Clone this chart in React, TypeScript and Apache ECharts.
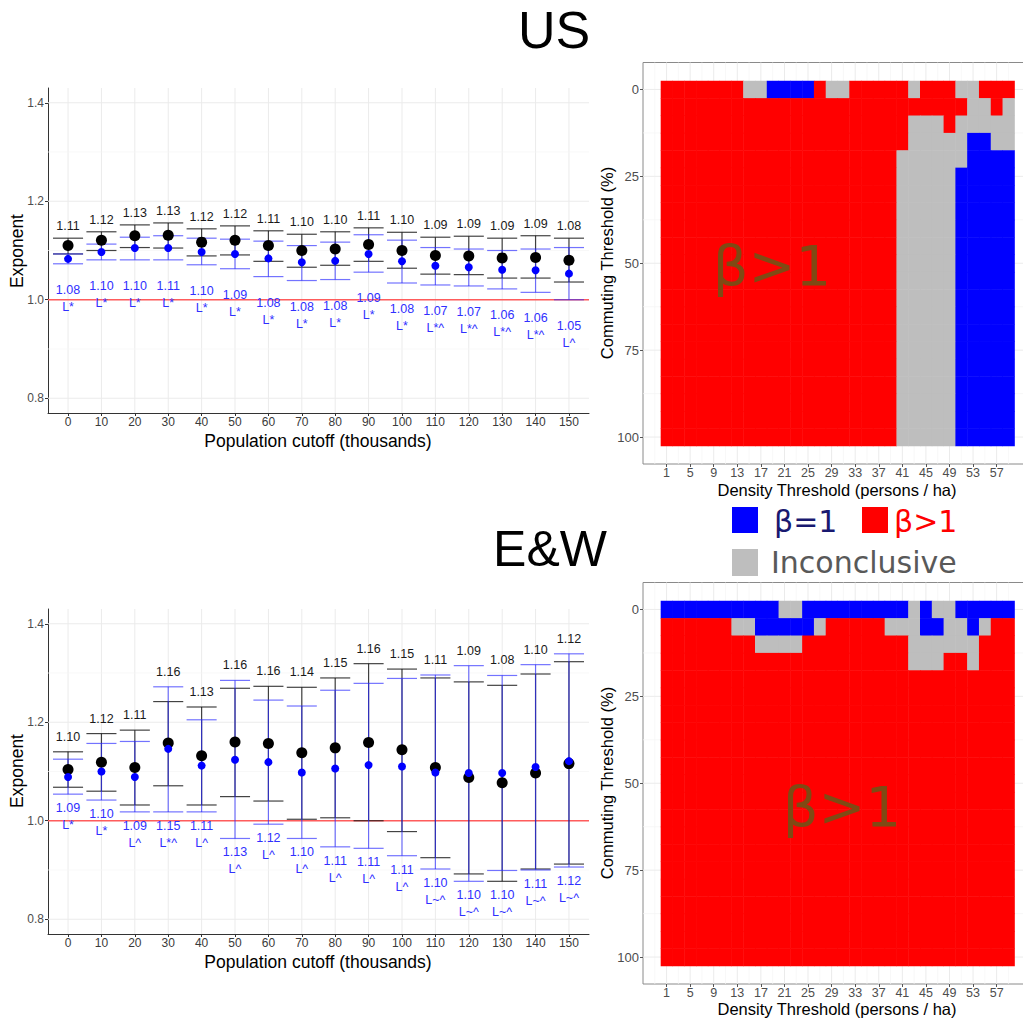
import React, { useEffect, useRef } from "react";
import * as echarts from "echarts";

// ---------- Scatter panels (population cutoff) ----------
const cutoffs = [0, 10, 20, 30, 40, 50, 60, 70, 80, 90, 100, 110, 120, 130, 140, 150];
const cutoffIdx = [0, 1, 2, 3, 4, 5, 6, 7, 8, 9, 10, 11, 12, 13, 14, 15];
const exponentTicks = [0.8, 1.0, 1.2, 1.4];
const exponentMinor = [0.9, 1.1, 1.3];

// US
const usBlackEst = [1.110, 1.121, 1.130, 1.131, 1.117, 1.121, 1.110, 1.100, 1.103, 1.112, 1.100, 1.090, 1.089, 1.085, 1.086, 1.080];
const usBlackLo = [1.093, 1.100, 1.106, 1.105, 1.089, 1.091, 1.078, 1.066, 1.070, 1.078, 1.064, 1.052, 1.051, 1.044, 1.044, 1.036];
const usBlackHi = [1.125, 1.138, 1.152, 1.156, 1.144, 1.150, 1.140, 1.133, 1.138, 1.146, 1.137, 1.127, 1.129, 1.125, 1.130, 1.125];
const usBlueEst = [1.083, 1.097, 1.105, 1.105, 1.097, 1.093, 1.084, 1.076, 1.079, 1.093, 1.078, 1.069, 1.066, 1.061, 1.060, 1.053];
const usBlueLo = [1.073, 1.081, 1.081, 1.081, 1.071, 1.063, 1.047, 1.039, 1.041, 1.056, 1.034, 1.030, 1.028, 1.022, 1.015, 1.000];
const usBlueHi = [1.093, 1.113, 1.127, 1.130, 1.125, 1.123, 1.119, 1.110, 1.117, 1.132, 1.121, 1.106, 1.103, 1.100, 1.103, 1.106];
const usBlackLabel = ["1.11", "1.12", "1.13", "1.13", "1.12", "1.12", "1.11", "1.10", "1.10", "1.11", "1.10", "1.09", "1.09", "1.09", "1.09", "1.08"];
const usBlueLabel = ["1.08", "1.10", "1.10", "1.11", "1.10", "1.09", "1.08", "1.08", "1.08", "1.09", "1.08", "1.07", "1.07", "1.06", "1.06", "1.05"];
const usTag = ["L*", "L*", "L*", "L*", "L*", "L*", "L*", "L*", "L*", "L*", "L*", "L*^", "L*^", "L*^", "L*^", "L^"];

// E&W
const ewBlackEst = [1.104, 1.119, 1.108, 1.158, 1.132, 1.160, 1.157, 1.138, 1.148, 1.159, 1.144, 1.108, 1.088, 1.077, 1.097, 1.116];
const ewBlackLo = [1.068, 1.060, 1.032, 1.071, 1.032, 1.049, 1.040, 1.003, 1.006, 1.000, 0.978, 0.925, 0.892, 0.877, 0.902, 0.912];
const ewBlackHi = [1.140, 1.177, 1.184, 1.242, 1.231, 1.269, 1.273, 1.271, 1.290, 1.319, 1.308, 1.290, 1.282, 1.275, 1.298, 1.323];
const ewBlueEst = [1.089, 1.100, 1.089, 1.146, 1.112, 1.124, 1.119, 1.098, 1.106, 1.113, 1.110, 1.098, 1.097, 1.097, 1.109, 1.121];
const ewBlueLo = [1.054, 1.042, 1.018, 1.018, 1.018, 0.964, 0.993, 0.964, 0.947, 0.944, 0.929, 0.902, 0.877, 0.899, 0.900, 0.906];
const ewBlueHi = [1.125, 1.157, 1.161, 1.272, 1.205, 1.285, 1.245, 1.233, 1.265, 1.279, 1.289, 1.296, 1.315, 1.295, 1.317, 1.339];
const ewBlackLabel = ["1.10", "1.12", "1.11", "1.16", "1.13", "1.16", "1.16", "1.14", "1.15", "1.16", "1.15", "1.11", "1.09", "1.08", "1.10", "1.12"];
const ewBlueLabel = ["1.09", "1.10", "1.09", "1.15", "1.11", "1.13", "1.12", "1.10", "1.11", "1.11", "1.11", "1.10", "1.10", "1.10", "1.11", "1.12"];
const ewTag = ["L*", "L*", "L^", "L*^", "L^", "L^", "L^", "L^", "L^", "L^", "L^", "L~^", "L~^", "L~^", "L~^", "L~^"];

// ---------- Heatmap panels ----------
const densityCols = [1, 3, 5, 7, 9, 11, 13, 15, 17, 19, 21, 23, 25, 27, 29, 31, 33, 35, 37, 39, 41, 43, 45, 47, 49, 51, 53, 55, 57, 59];
const commutingRows = [0, 5, 10, 15, 20, 25, 30, 35, 40, 45, 50, 55, 60, 65, 70, 75, 80, 85, 90, 95, 100];
const densityTicks = [1, 5, 9, 13, 17, 21, 25, 29, 33, 37, 41, 45, 49, 53, 57];
const densityMinor = [-1, 3, 7, 11, 15, 19, 23, 27, 31, 35, 39, 43, 47, 51, 55, 59];
const commutingTicks = [0, 25, 50, 75, 100];
const commutingMinor = [12.5, 37.5, 62.5, 87.5];

type Run = [string, number];
// R = beta>1, B = beta=1, G = inconclusive ; runs along density columns, one row per commuting threshold
const usRuns: Run[][] = [
  [["R", 7], ["G", 2], ["B", 4], ["R", 1], ["G", 2], ["R", 5], ["G", 1], ["R", 3], ["G", 2], ["R", 3]],
  [["R", 26], ["G", 2], ["R", 1], ["G", 1]],
  [["R", 21], ["G", 3], ["R", 1], ["G", 5]],
  [["R", 21], ["G", 5], ["B", 2], ["G", 2]],
  [["R", 20], ["G", 6], ["B", 4]],
  [["R", 20], ["G", 5], ["B", 5]],
  [["R", 20], ["G", 5], ["B", 5]],
  [["R", 20], ["G", 5], ["B", 5]],
  [["R", 20], ["G", 5], ["B", 5]],
  [["R", 20], ["G", 5], ["B", 5]],
  [["R", 20], ["G", 5], ["B", 5]],
  [["R", 20], ["G", 5], ["B", 5]],
  [["R", 20], ["G", 5], ["B", 5]],
  [["R", 20], ["G", 5], ["B", 5]],
  [["R", 20], ["G", 5], ["B", 5]],
  [["R", 20], ["G", 5], ["B", 5]],
  [["R", 20], ["G", 5], ["B", 5]],
  [["R", 20], ["G", 5], ["B", 5]],
  [["R", 20], ["G", 5], ["B", 5]],
  [["R", 20], ["G", 5], ["B", 5]],
  [["R", 20], ["G", 5], ["B", 5]],
];
const ewRuns: Run[][] = [
  [["B", 10], ["G", 2], ["B", 9], ["G", 1], ["B", 1], ["G", 2], ["B", 5]],
  [["R", 6], ["G", 2], ["B", 5], ["G", 1], ["R", 5], ["G", 3], ["B", 2], ["G", 2], ["B", 1], ["G", 1], ["R", 2]],
  [["R", 8], ["G", 4], ["R", 9], ["G", 6], ["R", 3]],
  [["R", 21], ["G", 3], ["R", 2], ["G", 1], ["R", 3]],
  [["R", 30]],
  [["R", 30]],
  [["R", 30]],
  [["R", 30]],
  [["R", 30]],
  [["R", 30]],
  [["R", 30]],
  [["R", 30]],
  [["R", 30]],
  [["R", 30]],
  [["R", 30]],
  [["R", 30]],
  [["R", 30]],
  [["R", 30]],
  [["R", 30]],
  [["R", 30]],
  [["R", 30]],
];

const statusCodes = ["B", "R", "G"];
const statusColors = ["#0000ff", "#ff0000", "#bebebe"];

const FONT = '"Liberation Sans", Arial, sans-serif';
const FONT_D = '"DejaVu Sans", Verdana, sans-serif';

function expandRuns(runs: Run[][]) {
  const cells: number[][] = [];
  runs.forEach((row, r) => {
    let c = 0;
    row.forEach(([code, n]) => {
      for (let k = 0; k < n; k++) {
        cells.push([densityCols[c], commutingRows[r], statusCodes.indexOf(code)]);
        c++;
      }
    });
  });
  return cells;
}

type GLine = { dir: "v" | "h"; v: number; kind: "major" | "minor" | "ref" };

function gridLineSeries(gi: number, lines: GLine[]) {
  return {
    type: "custom",
    xAxisIndex: gi,
    yAxisIndex: gi,
    z: 1,
    silent: true,
    data: lines.map((_, i) => [i]),
    renderItem: (params: any, api: any) => {
      const g = lines[params.dataIndex];
      const cs = params.coordSys;
      const stroke = g.kind === "major" ? "#ebebeb" : g.kind === "minor" ? "#f5f5f5" : "#ff5c5c";
      const lw = g.kind === "minor" ? 0.7 : g.kind === "ref" ? 1.3 : 1;
      if (g.dir === "v") {
        const p = api.coord([g.v, 0]);
        return { type: "line", shape: { x1: p[0], y1: cs.y, x2: p[0], y2: cs.y + cs.height }, style: { stroke, lineWidth: lw } };
      }
      const p = api.coord([0, g.v]);
      return { type: "line", shape: { x1: cs.x, y1: p[1], x2: cs.x + cs.width, y2: p[1] }, style: { stroke, lineWidth: lw } };
    },
  };
}

function errorBarSeries(gi: number, lo: number[], hi: number[], color: string, z: number) {
  return {
    type: "custom",
    xAxisIndex: gi,
    yAxisIndex: gi,
    z,
    silent: true,
    encode: { x: 0, y: [1, 2] },
    data: cutoffIdx.map((i) => [i, lo[i], hi[i]]),
    renderItem: (params: any, api: any) => {
      const x = api.value(0);
      const pLo = api.coord([x, api.value(1)]);
      const pHi = api.coord([x, api.value(2)]);
      const half = api.size([0.9, 0])[0] / 2;
      const style = { stroke: color, lineWidth: 1.2 };
      return {
        type: "group",
        children: [
          { type: "line", shape: { x1: pLo[0], y1: pLo[1], x2: pHi[0], y2: pHi[1] }, style },
          { type: "line", shape: { x1: pHi[0] - half, y1: pHi[1], x2: pHi[0] + half, y2: pHi[1] }, style },
          { type: "line", shape: { x1: pLo[0] - half, y1: pLo[1], x2: pLo[0] + half, y2: pLo[1] }, style },
        ],
      };
    },
  };
}

function textEl(x: number, y: number, text: string, fill: string, size: number, family = FONT, align = "center") {
  return {
    type: "text",
    x,
    y,
    style: { text, fill, fontSize: size, fontFamily: family, align, textAlign: align, verticalAlign: "middle", textVerticalAlign: "middle" },
  };
}

function labelSeries(
  gi: number,
  d: { bHi: number[]; uHi: number[]; bLo: number[]; uLo: number[]; bLab: string[]; uLab: string[]; tag: string[] },
  topOff: number,
  botOff: number
) {
  return {
    type: "custom",
    xAxisIndex: gi,
    yAxisIndex: gi,
    z: 8,
    silent: true,
    encode: { x: 0, y: [1, 2] },
    data: cutoffIdx.map((i) => [i, Math.max(d.bHi[i], d.uHi[i]), Math.min(d.bLo[i], d.uLo[i])]),
    renderItem: (params: any, api: any) => {
      const i = params.dataIndex;
      const top = api.coord([api.value(0), api.value(1)]);
      const bot = api.coord([api.value(0), api.value(2)]);
      return {
        type: "group",
        children: [
          textEl(top[0], top[1] - topOff, d.bLab[i], "#1a1a1a", 12.5),
          textEl(bot[0], bot[1] + botOff, d.uLab[i], "#3030ff", 12.5),
          textEl(bot[0], bot[1] + botOff + 17, d.tag[i], "#3030ff", 12.5),
        ],
      };
    },
  };
}

function pointSeries(gi: number, est: number[], color: string, size: number, z: number) {
  return {
    type: "scatter",
    xAxisIndex: gi,
    yAxisIndex: gi,
    z,
    silent: true,
    symbol: "circle",
    symbolSize: size,
    itemStyle: { color, opacity: 1 },
    data: cutoffIdx.map((i) => [i, est[i]]),
  };
}

function heatSeries(gi: number, runs: Run[][]) {
  return {
    type: "custom",
    xAxisIndex: gi,
    yAxisIndex: gi,
    z: 3,
    silent: true,
    data: expandRuns(runs),
    renderItem: (params: any, api: any) => {
      const x = api.value(0);
      const y = api.value(1);
      const s = api.value(2);
      const p1 = api.coord([x - 1, y - 2.5]);
      const p2 = api.coord([x + 1, y + 2.5]);
      return {
        type: "rect",
        shape: {
          x: Math.min(p1[0], p2[0]),
          y: Math.min(p1[1], p2[1]),
          width: Math.abs(p2[0] - p1[0]) + 0.5,
          height: Math.abs(p2[1] - p1[1]) + 0.5,
        },
        style: { fill: statusColors[s] },
      };
    },
  };
}

const scatterLines: GLine[] = [
  ...cutoffIdx.map((v) => ({ dir: "v" as const, v, kind: "major" as const })),
  ...exponentMinor.map((v) => ({ dir: "h" as const, v, kind: "minor" as const })),
  ...exponentTicks.map((v) => ({ dir: "h" as const, v, kind: "major" as const })),
  { dir: "h", v: 1.0, kind: "ref" },
];
const heatLines: GLine[] = [
  ...densityMinor.map((v) => ({ dir: "v" as const, v, kind: "minor" as const })),
  ...commutingMinor.map((v) => ({ dir: "h" as const, v, kind: "minor" as const })),
  ...densityTicks.map((v) => ({ dir: "v" as const, v, kind: "major" as const })),
  ...commutingTicks.map((v) => ({ dir: "h" as const, v, kind: "major" as const })),
];

function scatterXAxis(gi: number) {
  return {
    type: "value",
    gridIndex: gi,
    min: -0.6,
    max: 15.6,
    axisLine: { show: true, onZero: false, lineStyle: { color: "#333", width: 1 } },
    axisTick: { show: true, customValues: cutoffIdx, length: 3, lineStyle: { color: "#333" } },
    axisLabel: {
      show: true,
      customValues: cutoffIdx,
      formatter: (v: number) => String(cutoffs[Math.round(v)]),
      fontSize: 12,
      color: "#3a3a3a",
      fontFamily: FONT,
      margin: 3,
    },
    splitLine: { show: false },
  };
}
function scatterYAxis(gi: number) {
  return {
    type: "value",
    gridIndex: gi,
    min: 0.77,
    max: 1.43,
    axisLine: { show: true, onZero: false, lineStyle: { color: "#333", width: 1 } },
    axisTick: { show: true, customValues: exponentTicks, length: 3, lineStyle: { color: "#333" } },
    axisLabel: {
      show: true,
      customValues: exponentTicks,
      formatter: (v: number) => v.toFixed(1),
      fontSize: 12,
      color: "#4d4d4d",
      fontFamily: FONT,
      margin: 4,
    },
    splitLine: { show: false },
  };
}
function heatXAxis(gi: number) {
  return {
    type: "value",
    gridIndex: gi,
    min: -3,
    max: 63,
    axisLine: { show: false, onZero: false },
    axisTick: { show: true, customValues: densityTicks, length: 3, lineStyle: { color: "#555" } },
    axisLabel: { show: true, customValues: densityTicks, fontSize: 12.5, color: "#4d4d4d", fontFamily: FONT, margin: 2 },
    splitLine: { show: false },
  };
}
function heatYAxis(gi: number) {
  return {
    type: "value",
    gridIndex: gi,
    inverse: true,
    min: -7.75,
    max: 107.75,
    axisLine: { show: false, onZero: false },
    axisTick: { show: true, customValues: commutingTicks, length: 3, lineStyle: { color: "#555" } },
    axisLabel: { show: true, customValues: commutingTicks, fontSize: 13, color: "#4d4d4d", fontFamily: FONT, margin: 4 },
    splitLine: { show: false },
  };
}

function rotatedText(x: number, y: number, text: string, size: number) {
  return {
    type: "text",
    x,
    y,
    rotation: Math.PI / 2,
    z: 100,
    style: { text, fill: "#000", fontSize: size, fontFamily: FONT, align: "center", textAlign: "center", verticalAlign: "middle", textVerticalAlign: "middle" },
  };
}
function gText(x: number, y: number, text: string, fill: string, size: number, family: string, align = "center") {
  return {
    type: "text",
    x,
    y,
    z: 100,
    style: { text, fill, fontSize: size, fontFamily: family, align, textAlign: align, verticalAlign: "middle", textVerticalAlign: "middle" },
  };
}
function gRect(x: number, y: number, w: number, h: number, fill: string) {
  return { type: "rect", z: 100, shape: { x, y, width: w, height: h }, style: { fill } };
}

export default function App() {
  const ref = useRef<HTMLDivElement>(null);
  useEffect(() => {
    if (!ref.current) return;
    const chart = echarts.init(ref.current, null, { renderer: "svg" });
    const usD = { bHi: usBlackHi, uHi: usBlueHi, bLo: usBlackLo, uLo: usBlueLo, bLab: usBlackLabel, uLab: usBlueLabel, tag: usTag };
    const ewD = { bHi: ewBlackHi, uHi: ewBlueHi, bLo: ewBlackLo, uLo: ewBlueLo, bLab: ewBlackLabel, uLab: ewBlueLabel, tag: ewTag };
    const option: any = {
      animation: false,
      backgroundColor: "#ffffff",
      grid: [
        { left: 48, top: 88, width: 541, height: 325, outerBoundsMode: "none" },
        { left: 48, top: 609, width: 541, height: 325, outerBoundsMode: "none" },
        { left: 643, top: 62.5, width: 389, height: 401.5, show: true, borderColor: "#8a8a8a", borderWidth: 1, backgroundColor: "transparent", outerBoundsMode: "none" },
        { left: 643, top: 582.5, width: 389, height: 401.5, show: true, borderColor: "#8a8a8a", borderWidth: 1, backgroundColor: "transparent", outerBoundsMode: "none" },
      ],
      xAxis: [scatterXAxis(0), scatterXAxis(1), heatXAxis(2), heatXAxis(3)],
      yAxis: [scatterYAxis(0), scatterYAxis(1), heatYAxis(2), heatYAxis(3)],
      series: [
        gridLineSeries(0, scatterLines),
        errorBarSeries(0, usBlackLo, usBlackHi, "rgba(20,20,20,0.8)", 3),
        errorBarSeries(0, usBlueLo, usBlueHi, "rgba(40,40,255,0.65)", 4),
        pointSeries(0, usBlackEst, "#000000", 11, 5),
        pointSeries(0, usBlueEst, "#0000ff", 8, 6),
        labelSeries(0, usD, 12, 26),
        gridLineSeries(1, scatterLines),
        errorBarSeries(1, ewBlackLo, ewBlackHi, "rgba(20,20,20,0.8)", 3),
        errorBarSeries(1, ewBlueLo, ewBlueHi, "rgba(40,40,255,0.65)", 4),
        pointSeries(1, ewBlackEst, "#000000", 11, 5),
        pointSeries(1, ewBlueEst, "#0000ff", 8, 6),
        labelSeries(1, ewD, 15, 14),
        gridLineSeries(2, heatLines),
        heatSeries(2, usRuns),
        gridLineSeries(3, heatLines),
        heatSeries(3, ewRuns),
      ],
      graphic: {
        elements: [
          gText(554, 30, "US", "#000", 52, FONT),
          gText(550, 549, "E&W", "#000", 50, FONT),
          rotatedText(17, 251, "Exponent", 17.5),
          rotatedText(17, 771, "Exponent", 17.5),
          gText(318, 441, "Population cutoff (thousands)", "#000", 17.5, FONT),
          gText(318, 962, "Population cutoff (thousands)", "#000", 17.5, FONT),
          rotatedText(607, 263, "Commuting Threshold (%)", 16.5),
          rotatedText(607, 783, "Commuting Threshold (%)", 16.5),
          gText(837, 490, "Density Threshold (persons / ha)", "#000", 16.5, FONT),
          gText(837, 1009, "Density Threshold (persons / ha)", "#000", 16.5, FONT),
          gText(772, 265, "β>1", "#7f4a14", 56, FONT_D),
          gText(842, 806, "β>1", "#7f4a14", 56, FONT_D),
          gRect(732, 507, 26, 26, "#0000ff"),
          gText(774, 521, "β=1", "#191970", 30, FONT_D, "left"),
          gRect(862, 507, 26, 26, "#ff0000"),
          gText(894, 521, "β>1", "#ff0000", 30, FONT_D, "left"),
          gRect(732, 549, 26, 27, "#bebebe"),
          gText(771, 562, "Inconclusive", "#595959", 30, FONT_D, "left"),
        ],
      },
    };
    chart.setOption(option);
    return () => chart.dispose();
  }, []);
  return <div ref={ref} style={{ position: "absolute", left: 0, top: 0, width: 1023, height: 1018, background: "#fff" }} />;
}
